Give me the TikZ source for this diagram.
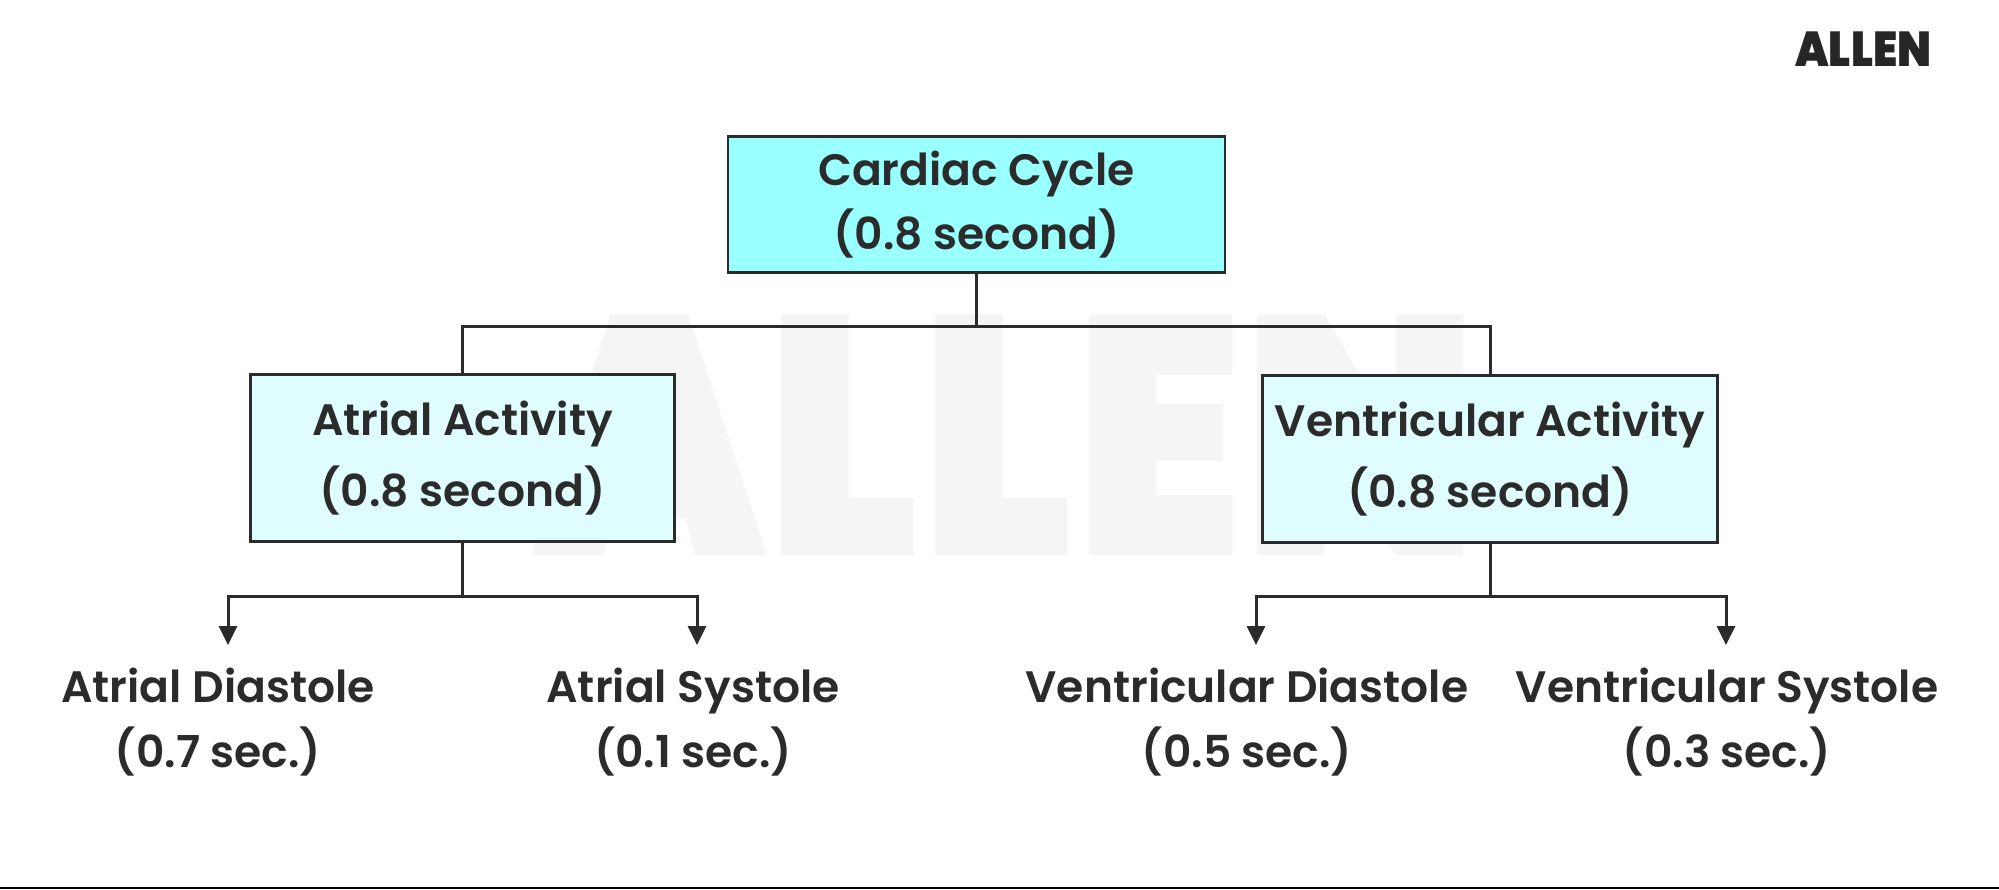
\documentclass[tikz,border=0pt]{standalone}
\usepackage{fontspec}
\setmainfont{Poppins SemiBold}
\newfontfamily\logofont{Poppins Black}
\definecolor{ink}{HTML}{2B2B2B}
\definecolor{topfill}{HTML}{99FFFF}
\definecolor{subfill}{HTML}{DFFDFF}
\definecolor{wm}{HTML}{F5F5F5}
\usetikzlibrary{arrows.meta,calc}
\tikzset{
  box/.style={draw=ink,line width=2.3pt,inner sep=0pt,align=center,text=ink},
  topbox/.style={box,font=\fontsize{44}{63.5}\selectfont},
  subbox/.style={box,font=\fontsize{44}{71}\selectfont},
  leaf/.style={inner sep=0pt,align=center,text=ink,font=\fontsize{44}{65}\selectfont},
  conn/.style={draw=ink,line width=3pt},
  arr/.style={draw=ink,line width=3pt,-{Triangle[length=19pt,width=18pt]}},
}
\begin{document}
\begin{tikzpicture}[x=1pt,y=-1pt]
\useasboundingbox (0,0) rectangle (1999,889);
\fill[white] (0,0) rectangle (1999,889);
\fill[black] (0,887) rectangle (1999,889);
\node[anchor=base west,inner sep=0pt,text=wm] (wmark) at (532,555) {\scalebox{.893}[1]{\logofont\fontsize{340}{340}\selectfont ALLEN}};
\node[anchor=base west,inner sep=0pt,text=black!85] (logo) at (1795,66) {\scalebox{.89}[1]{\logofont\fontsize{49}{49}\selectfont ALLEN}};
\node[topbox,fill=topfill,minimum width=497pt,minimum height=136pt] (top) at (976.5,204.5) {Cardiac Cycle\\(0.8 second)};
\node[subbox,fill=subfill,minimum width=424pt,minimum height=167pt] (left) at (462.5,458) {Atrial Activity\\(0.8 second)};
\node[subbox,fill=subfill,minimum width=455pt,minimum height=167pt] (right) at (1490,459) {Ventricular Activity\\(0.8 second)};
\node[leaf] (ad) at (218,722) {Atrial Diastole\\(0.7 sec.)};
\node[leaf] (as) at (693,722) {Atrial Systole\\(0.1 sec.)};
\node[leaf] (vd) at (1247,722) {Ventricular Diastole\\(0.5 sec.)};
\node[leaf] (vs) at (1727,722) {Ventricular Systole\\(0.3 sec.)};
\coordinate (tm) at (976.5,326.5);
\coordinate (lm) at (462.5,596);
\coordinate (rm) at (1490,596);
\draw[conn] (top.south) -- (tm);
\draw[conn] (left.north) |- (tm) -| (right.north);
\draw[conn] (left.south) -- (lm);
\draw[conn] (right.south) -- (rm);
\coordinate (adt) at (228,645);
\coordinate (ast) at (697,645);
\coordinate (vdt) at (1256,645);
\coordinate (vst) at (1726,645);
\draw[arr] (lm) -| (adt);
\draw[arr] (lm) -| (ast);
\draw[arr] (rm) -| (vdt);
\draw[arr] (rm) -| (vst);
\end{tikzpicture}
\end{document}
